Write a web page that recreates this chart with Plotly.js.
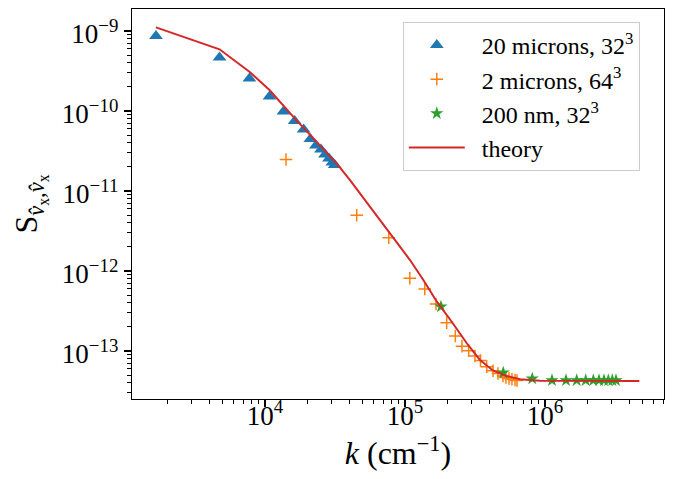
<!DOCTYPE html>
<html>
<head>
<meta charset="utf-8">
<script src="https://cdn.plot.ly/plotly-3.0.1.min.js"></script>
<style>html,body{margin:0;padding:0;background:#fff;}#plot{width:674px;height:479px;}</style>
</head>
<body>
<div id="plot"></div>
<script>
// 20 microns, 32^3
const kBlue = [1664, 4732, 7740, 10770, 13550, 16290, 18880, 21080, 23100, 25120, 26830, 28650, 30270, 31480];
const sBlue = [8.66e-10, 4.67e-10, 2.55e-10, 1.52e-10, 9.86e-11, 7.5e-11, 5.87e-11, 4.47e-11, 3.71e-11, 3.30e-11, 2.86e-11, 2.55e-11, 2.27e-11, 2.11e-11];
// 2 microns, 64^3
const kOrange = [14130, 45200, 76600, 108200, 138400, 166500, 198500, 228700, 255300, 285100, 316200, 346000, 383400, 425600, 461500, 501000, 526400, 553300, 580800, 610500, 631000];
const sOrange = [2.48e-11, 4.97e-12, 2.61e-12, 8.1e-13, 5.96e-13, 3.87e-13, 2.26e-13, 1.54e-13, 1.15e-13, 1.01e-13, 8.66e-14, 7.6e-14, 6.37e-14, 5.67e-14, 5.23e-14, 4.87e-14, 4.67e-14, 4.53e-14, 4.43e-14, 4.34e-14, 4.28e-14];
// 200 nm, 32^3
const kGreen = [180700, 503300, 811000, 1122000, 1413000, 1684000, 1954000, 2213000, 2431000, 2638000, 2832000, 3026000, 3213000];
const sGreen = [3.58e-13, 5.35e-14, 4.51e-14, 4.3e-14, 4.3e-14, 4.3e-14, 4.3e-14, 4.3e-14, 4.3e-14, 4.3e-14, 4.3e-14, 4.3e-14, 4.3e-14];
// theory
const kTheory = [1664, 4732, 7740, 10770, 16300, 32500, 40470, 62800, 78130, 108600, 135200, 168400, 215700, 276300, 343300, 427300, 532100, 662500, 920400, 1778000, 4720000];
const sTheory = [1.11e-9, 5.91e-10, 3.1e-10, 1.83e-10, 8.1e-11, 2.22e-11, 1.37e-11, 4.97e-12, 2.96e-12, 1.37e-12, 7.72e-13, 4.16e-13, 2.32e-13, 1.25e-13, 7.72e-14, 5.67e-14, 4.87e-14, 4.43e-14, 4.25e-14, 4.22e-14, 4.22e-14];

const xTickVals = [1e4, 1e5, 1e6];
const xTickText = ['10<sup>4</sup>', '10<sup>5</sup>', '10<sup>6</sup>'];
const yTickVals = [1e-9, 1e-10, 1e-11, 1e-12, 1e-13];
const yTickText = ['10<sup>−9</sup>', '10<sup>−10</sup>', '10<sup>−11</sup>', '10<sup>−12</sup>', '10<sup>−13</sup>'];

const FONT = 'Liberation Serif, DejaVu Serif, serif';
const PAD = '\u00a0\u00a0';

const traces = [
  {x: kBlue, y: sBlue, name: PAD + '20 microns, 32<sup>3</sup>', mode: 'markers', type: 'scatter', legendgroup: 'a',
   marker: {symbol: 'triangle-up', size: 12, color: '#1f77b4'}},
  {x: kOrange, y: sOrange, name: PAD + '2 microns, 64<sup>3</sup>', mode: 'markers', type: 'scatter', legendgroup: 'b',
   marker: {symbol: 'cross-thin', size: 9, color: '#ff7f0e', line: {color: '#ff7f0e', width: 1.5}}},
  {x: kGreen, y: sGreen, name: PAD + '200 nm, 32<sup>3</sup>', mode: 'markers', type: 'scatter', legendgroup: 'c',
   marker: {symbol: 'star', size: 10, color: '#2ca02c'}},
  {x: kTheory, y: sTheory, name: PAD + 'theory', mode: 'lines', type: 'scatter', legendgroup: 'd',
   line: {color: '#d62728', width: 2}}
];

const axisCommon = {
  type: 'log', showgrid: false, zeroline: false, showline: true, linecolor: 'black', linewidth: 1.2,
  mirror: true, ticks: 'outside', ticklen: 7, tickwidth: 1.2, tickcolor: 'black',
  tickfont: {family: FONT, size: 27, color: 'black'},
  minor: {tickmode: 'linear', dtick: 'D1', ticks: 'outside', ticklen: 4, tickwidth: 1, tickcolor: 'black', showgrid: false}
};

const layout = {
  width: 674, height: 479,
  margin: {l: 132, r: 10, t: 9, b: 80},
  paper_bgcolor: 'white', plot_bgcolor: 'white',
  font: {family: FONT, color: 'black'},
  showlegend: true,
  xaxis: Object.assign({}, axisCommon, {
    range: [3.05, 6.85], tickvals: xTickVals, ticktext: xTickText, ticklabelstandoff: -15,
    title: {text: '<i>k</i> (cm<sup>−1</sup>)', font: {family: FONT, size: 32, color: 'black'}, standoff: 6}
  }),
  yaxis: Object.assign({}, axisCommon, {
    range: [-13.6, -8.725], tickvals: yTickVals, ticktext: yTickText, ticklabelshift: 3,
    title: {text: 'S<sub><i>v̂</i><sub>x</sub>,<i>v̂</i><sub>x</sub></sub>', font: {family: FONT, size: 32, color: 'black'}, standoff: 14}
  }),
  legend: {
    x: 0.509, y: 0.967, xanchor: 'left', yanchor: 'top',
    bgcolor: 'rgba(255,255,255,0.8)', bordercolor: '#cccccc', borderwidth: 1,
    font: {family: FONT, size: 24, color: 'black'},
    tracegroupgap: 0, itemwidth: 56
  }
};

Plotly.newPlot('plot', traces, layout, {displayModeBar: false, staticPlot: true});
</script>
</body>
</html>
